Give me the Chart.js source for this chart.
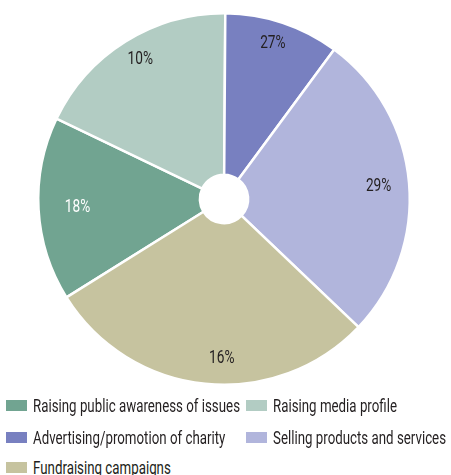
<!DOCTYPE html>
<html lang="en">
<head>
    <meta charset="UTF-8">
    <title>Communication activities</title>
    <script src="https://cdn.jsdelivr.net/npm/chart.js"></script>
    <style>
        body { margin: 0; background: #fff; font-family: Roboto, 'Liberation Sans', sans-serif; }
        #wrap { position: relative; width: 451px; height: 400px; }
        .legend { position: absolute; top: 395px; left: 6px; width: 445px; }
        .item { position: absolute; display: flex; align-items: center; height: 20px; color: #231f20; white-space: nowrap; }
        .box { width: 21px; height: 11px; margin-right: 6px; flex: none; }
        .name { display: inline-block; font-size: 18px; font-weight: 400; transform-origin: left center; }
    </style>
</head>
<body>
<div id="wrap"><canvas id="pie"></canvas></div>
<div class="legend" id="legend"></div>

<script>
  const categories = [
    'Raising public awareness of issues',
    'Raising media profile',
    'Advertising/promotion of charity',
    'Selling products and services',
    'Fundraising campaigns'
  ];
  const shares = [16, 18, 10, 27, 29];
  const colours = ['#71a491', '#b2ccc3', '#7880c0', '#b1b5dc', '#c6c39f'];
  const labelInk = ['#fff', '#231f20', '#231f20', '#231f20', '#231f20'];

  // each slice carries the percentage of the slice after it
  const sliceText = shares.map((v, i) => shares[(i + 1) % shares.length] + '%');

  // label placement: fraction of the radius, and a small turn in degrees
  const labelRadius = [0.79, 0.875, 0.88, 0.835, 0.86];
  const labelTurn = [0, 1, -1, 0.5, -5];

  const sliceLabels = {
    id: 'sliceLabels',
    afterDatasetsDraw(chart) {
      const ctx = chart.ctx;
      const meta = chart.getDatasetMeta(0);
      ctx.save();
      ctx.font = '18px Roboto, "Liberation Sans", sans-serif';
      ctx.textAlign = 'center';
      ctx.textBaseline = 'middle';
      meta.data.forEach((arc, i) => {
        const p = arc.getProps(['x', 'y', 'startAngle', 'endAngle', 'outerRadius'], true);
        const mid = (p.startAngle + p.endAngle) / 2 + labelTurn[i] * Math.PI / 180;
        const r = p.outerRadius * labelRadius[i];
        ctx.save();
        ctx.translate(p.x + Math.cos(mid) * r, p.y + Math.sin(mid) * r);
        ctx.scale(0.76, 1);
        ctx.fillStyle = labelInk[i];
        ctx.fillText(sliceText[i], 0, 0);
        ctx.restore();
      });
      ctx.restore();
    }
  };

  new Chart(document.getElementById('pie'), {
    type: 'doughnut',
    data: {
      labels: categories,
      datasets: [{
        data: shares,
        backgroundColor: colours,
        borderColor: '#fff',
        borderWidth: 2.5
      }]
    },
    options: {
      responsive: true,
      maintainAspectRatio: false,
      animation: false,
      cutout: '13%',
      rotation: 238,
      layout: { padding: { top: 12, bottom: 14, left: 0, right: 3 } },
      plugins: { legend: { display: false }, tooltip: { enabled: false } }
    },
    plugins: [sliceLabels]
  });

  // legend below the pie, two columns
  const legend = document.getElementById('legend');
  const rowTop = [0, 32, 62];
  const names = categories.map((name, i) => {
    const item = document.createElement('div');
    item.className = 'item';
    item.style.left = (i % 2 ? 240 : 0) + 'px';
    item.style.top = rowTop[Math.floor(i / 2)] + 'px';
    item.innerHTML = '<span class="box" style="background:' + colours[i] + '"></span><span class="name">' + name + '</span>';
    legend.appendChild(item);
    return item.querySelector('.name');
  });
  // narrow the type so the first entry spans 207px
  const squeeze = 207 / names[0].getBoundingClientRect().width;
  names.forEach(n => { n.style.transform = 'scaleX(' + squeeze + ')'; });
</script>
</body>
</html>
